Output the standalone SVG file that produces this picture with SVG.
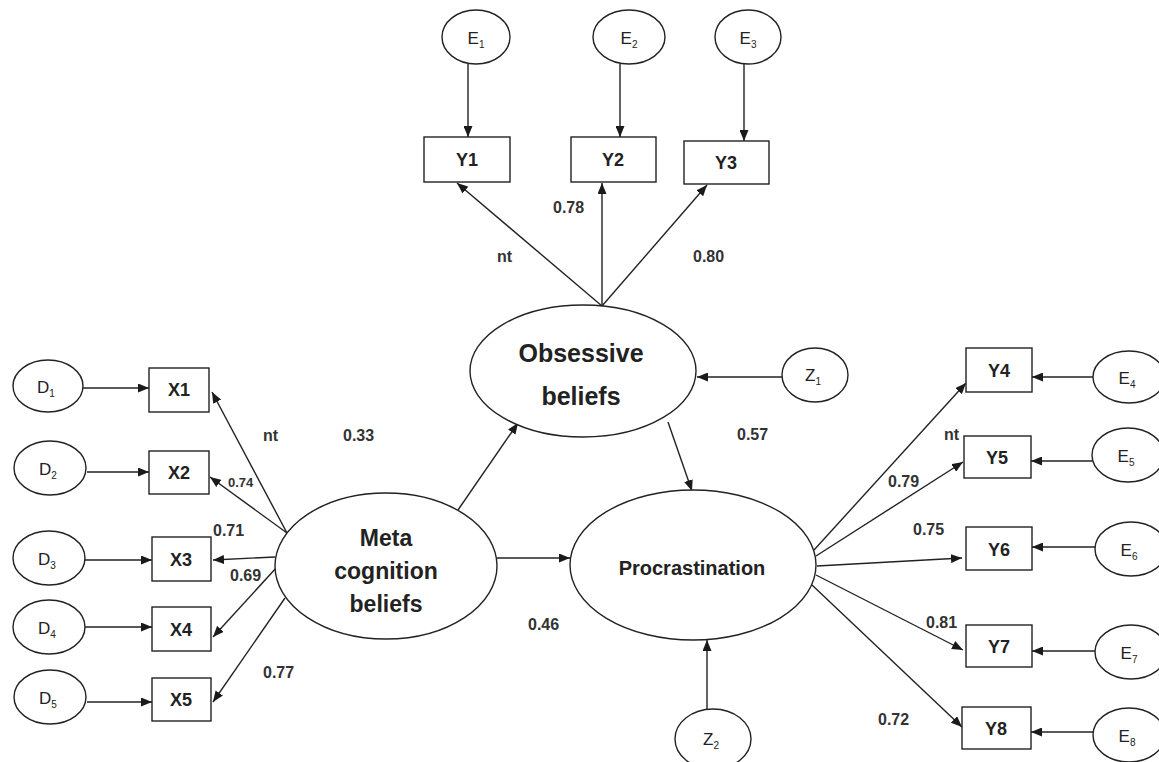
<svg xmlns="http://www.w3.org/2000/svg" width="1159" height="762" viewBox="0 0 1159 762">
<defs>
<marker id="ah" markerWidth="11" markerHeight="9" refX="11" refY="4.5" orient="auto" markerUnits="userSpaceOnUse">
<path d="M0,0 L11,4.5 L0,9 z" fill="#1a1a1a"/>
</marker>
<style>
.sh{fill:#fff;stroke:#222;stroke-width:1.4}
.cn line{stroke:#222;stroke-width:1.4;marker-end:url(#ah)}
.t{font-family:"Liberation Sans",Arial,sans-serif;fill:#222;text-anchor:middle}
.v{font-size:18px;font-weight:bold}
.e{font-size:17px}
.s{font-size:10px}
.big{font-size:25px;font-weight:bold}
.lb{font-family:"Liberation Sans",Arial,sans-serif;fill:#333;font-size:16px;font-weight:bold}
</style>
</defs>
<rect width="1159" height="762" fill="#fff"/>

<g class="cn" id="connectors">
<line x1="468" y1="64" x2="468" y2="137"/>
<line x1="620" y1="64" x2="620" y2="137"/>
<line x1="744" y1="64" x2="744" y2="141"/>
<line x1="602" y1="306" x2="457" y2="183"/>
<line x1="602" y1="306" x2="602" y2="183"/>
<line x1="602" y1="306" x2="707" y2="185"/>
<line x1="783" y1="377" x2="697" y2="377"/>
<line x1="458" y1="510" x2="518" y2="423"/>
<line x1="668" y1="422" x2="692" y2="491"/>
<line x1="497" y1="558" x2="570" y2="558"/>
<line x1="707" y1="709" x2="707" y2="640"/>
<line x1="83" y1="388" x2="149" y2="388"/>
<line x1="87" y1="472" x2="149" y2="472"/>
<line x1="85" y1="560" x2="152" y2="560"/>
<line x1="85" y1="627" x2="152" y2="627"/>
<line x1="87" y1="702" x2="152" y2="702"/>
<line x1="287" y1="533" x2="212" y2="392"/>
<line x1="287" y1="533" x2="210" y2="477"/>
<line x1="275" y1="557" x2="213" y2="560"/>
<line x1="277" y1="567" x2="213" y2="637"/>
<line x1="285" y1="598" x2="213" y2="702"/>
<line x1="814" y1="550" x2="966" y2="383"/>
<line x1="816" y1="556" x2="963" y2="462"/>
<line x1="817" y1="566" x2="962" y2="558"/>
<line x1="816" y1="575" x2="963" y2="650"/>
<line x1="812" y1="585" x2="962" y2="727"/>
<line x1="1093" y1="377" x2="1032" y2="377"/>
<line x1="1092" y1="461" x2="1031" y2="461"/>
<line x1="1095" y1="547" x2="1032" y2="547"/>
<line x1="1095" y1="651" x2="1032" y2="651"/>
<line x1="1093" y1="732" x2="1031" y2="732"/>
</g>

<g id="E1"><ellipse class="sh" cx="476" cy="37" rx="34" ry="27"/><text class="t e" x="476" y="44">E<tspan class="s" dy="4">1</tspan></text></g>
<g id="E2"><ellipse class="sh" cx="629" cy="37" rx="36" ry="27"/><text class="t e" x="629" y="44">E<tspan class="s" dy="4">2</tspan></text></g>
<g id="E3"><ellipse class="sh" cx="748" cy="37" rx="33" ry="27"/><text class="t e" x="748" y="44">E<tspan class="s" dy="4">3</tspan></text></g>

<g id="Y1"><rect class="sh" x="424" y="137" width="86" height="45"/><text class="t v" x="467" y="166">Y1</text></g>
<g id="Y2"><rect class="sh" x="571" y="137" width="85" height="45"/><text class="t v" x="613" y="166">Y2</text></g>
<g id="Y3"><rect class="sh" x="684" y="141" width="85" height="43"/><text class="t v" x="726" y="169">Y3</text></g>

<g id="Obsessive"><ellipse class="sh" cx="583" cy="371" rx="113" ry="66"/><text class="t big" x="581" y="362">Obsessive</text><text class="t big" x="581" y="405">beliefs</text></g>
<g id="Z1"><ellipse class="sh" cx="815" cy="375" rx="33" ry="27"/><text class="t e" x="813" y="381">Z<tspan class="s" dy="4">1</tspan></text></g>

<g id="Meta"><ellipse class="sh" cx="386" cy="566" rx="111" ry="73"/><text class="t v" style="font-size:23px" x="386" y="546">Meta</text><text class="t v" style="font-size:23px" x="386" y="579">cognition</text><text class="t v" style="font-size:23px" x="386" y="612">beliefs</text></g>

<g id="Procrastination"><ellipse class="sh" cx="693" cy="565" rx="123" ry="75"/><text class="t v" style="font-size:20px" x="692" y="575">Procrastination</text></g>
<g id="Z2"><ellipse class="sh" cx="713" cy="739" rx="38" ry="30"/><text class="t e" x="711" y="745">Z<tspan class="s" dy="4">2</tspan></text></g>

<g id="D1"><ellipse class="sh" cx="48" cy="386" rx="35" ry="26"/><text class="t e" x="46" y="393">D<tspan class="s" dy="4">1</tspan></text></g>
<g id="D2"><ellipse class="sh" cx="50" cy="468" rx="36" ry="27"/><text class="t e" x="48" y="475">D<tspan class="s" dy="4">2</tspan></text></g>
<g id="D3"><ellipse class="sh" cx="49" cy="558" rx="36" ry="27"/><text class="t e" x="47" y="565">D<tspan class="s" dy="4">3</tspan></text></g>
<g id="D4"><ellipse class="sh" cx="49" cy="627" rx="36" ry="27"/><text class="t e" x="47" y="634">D<tspan class="s" dy="4">4</tspan></text></g>
<g id="D5"><ellipse class="sh" cx="50" cy="697" rx="36" ry="27"/><text class="t e" x="48" y="704">D<tspan class="s" dy="4">5</tspan></text></g>

<g id="X1"><rect class="sh" x="149" y="368" width="60" height="44"/><text class="t v" x="179" y="396">X1</text></g>
<g id="X2"><rect class="sh" x="149" y="451" width="60" height="43"/><text class="t v" x="179" y="479">X2</text></g>
<g id="X3"><rect class="sh" x="152" y="537" width="59" height="44"/><text class="t v" x="181" y="566">X3</text></g>
<g id="X4"><rect class="sh" x="152" y="607" width="59" height="44"/><text class="t v" x="181" y="636">X4</text></g>
<g id="X5"><rect class="sh" x="152" y="678" width="59" height="43"/><text class="t v" x="181" y="706">X5</text></g>

<g id="Y4"><rect class="sh" x="966" y="348" width="66" height="44"/><text class="t v" x="999" y="377">Y4</text></g>
<g id="Y5"><rect class="sh" x="964" y="436" width="67" height="42"/><text class="t v" x="997" y="464">Y5</text></g>
<g id="Y6"><rect class="sh" x="966" y="527" width="66" height="43"/><text class="t v" x="999" y="556">Y6</text></g>
<g id="Y7"><rect class="sh" x="966" y="625" width="66" height="42"/><text class="t v" x="999" y="653">Y7</text></g>
<g id="Y8"><rect class="sh" x="962" y="707" width="69" height="42"/><text class="t v" x="996" y="735">Y8</text></g>

<g id="E4"><ellipse class="sh" cx="1129" cy="377" rx="36" ry="26"/><text class="t e" x="1127" y="384">E<tspan class="s" dy="4">4</tspan></text></g>
<g id="E5"><ellipse class="sh" cx="1128" cy="455" rx="36" ry="27"/><text class="t e" x="1126" y="462">E<tspan class="s" dy="4">5</tspan></text></g>
<g id="E6"><ellipse class="sh" cx="1131" cy="549" rx="36" ry="27"/><text class="t e" x="1129" y="556">E<tspan class="s" dy="4">6</tspan></text></g>
<g id="E7"><ellipse class="sh" cx="1131" cy="652" rx="36" ry="27"/><text class="t e" x="1129" y="659">E<tspan class="s" dy="4">7</tspan></text></g>
<g id="E8"><ellipse class="sh" cx="1129" cy="735" rx="36" ry="27"/><text class="t e" x="1127" y="742">E<tspan class="s" dy="4">8</tspan></text></g>

<g id="labels">
<text class="lb" x="497" y="262">nt</text>
<text class="lb" x="553" y="213">0.78</text>
<text class="lb" x="693" y="262">0.80</text>
<text class="lb" x="263" y="441">nt</text>
<text class="lb" x="343" y="441">0.33</text>
<text class="lb" x="737" y="440">0.57</text>
<text class="lb" style="font-size:13px" x="228" y="487">0.74</text>
<text class="lb" x="213" y="536">0.71</text>
<text class="lb" x="230" y="581">0.69</text>
<text class="lb" x="263" y="678">0.77</text>
<text class="lb" x="528" y="630">0.46</text>
<text class="lb" x="944" y="440">nt</text>
<text class="lb" x="888" y="487">0.79</text>
<text class="lb" x="913" y="535">0.75</text>
<text class="lb" x="926" y="628">0.81</text>
<text class="lb" x="878" y="725">0.72</text>
</g>
</svg>
